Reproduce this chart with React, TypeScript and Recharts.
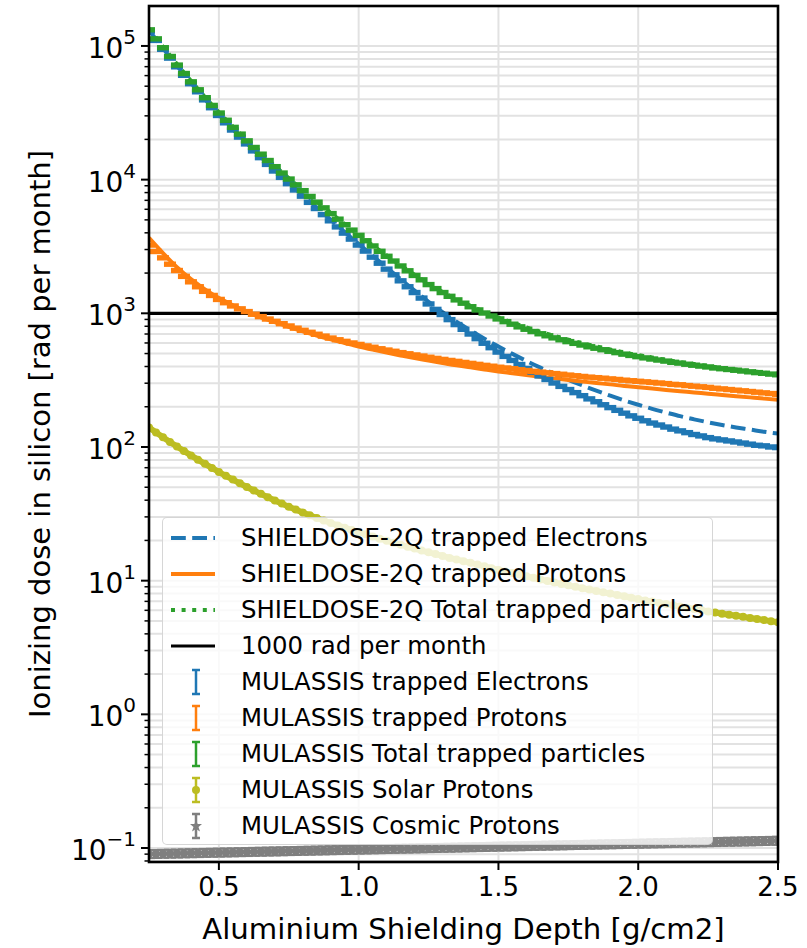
import React from 'react';
import { ComposedChart, Line, Scatter, XAxis, YAxis, CartesianGrid, ReferenceLine } from 'recharts';

// MULASSIS depths [g/cm2]
const depths = [
  0.25, 0.275, 0.3, 0.325, 0.35, 0.375, 0.4, 0.425, 0.45, 0.475,
  0.5, 0.525, 0.55, 0.575, 0.6, 0.625, 0.65, 0.675, 0.7, 0.725,
  0.75, 0.775, 0.8, 0.825, 0.85, 0.875, 0.9, 0.925, 0.95, 0.975,
  1.0, 1.025, 1.05, 1.075, 1.1, 1.125, 1.15, 1.175, 1.2, 1.225,
  1.25, 1.275, 1.3, 1.325, 1.35, 1.375, 1.4, 1.425, 1.45, 1.475,
  1.5, 1.525, 1.55, 1.575, 1.6, 1.625, 1.65, 1.675, 1.7, 1.725,
  1.75, 1.775, 1.8, 1.825, 1.85, 1.875, 1.9, 1.925, 1.95, 1.975,
  2.0, 2.025, 2.05, 2.075, 2.1, 2.125, 2.15, 2.175, 2.2, 2.225,
  2.25, 2.275, 2.3, 2.325, 2.35, 2.375, 2.4, 2.425, 2.45, 2.475, 2.5,
];

const mulElectrons = [
  129000, 110000, 94400, 81100, 69800, 60300, 52200, 45400, 39500, 34500,
  30200, 26600, 23500, 20800, 18500, 16400, 14600, 13000, 11600, 10400,
  9330, 8370, 7520, 6760, 6080, 5470, 4920, 4430, 3980, 3590,
  3240, 2920, 2630, 2370, 2140, 1940, 1750, 1580, 1430, 1300,
  1175, 1070, 979, 897, 824, 759, 700, 646, 597, 553,
  513, 476, 444, 414, 387, 363, 340, 320, 301, 284,
  269, 255, 242, 229, 218, 207, 197, 188, 179, 171,
  164, 157, 151, 146, 141, 136, 132, 128, 124, 121,
  117.5, 115, 113, 111, 109, 107, 105, 103, 102, 100, 99,
];

const mulProtons = [
  3240, 2900, 2600, 2330, 2090, 1890, 1720, 1580, 1460, 1360,
  1270, 1200, 1135, 1080, 1030, 984, 944, 906, 871, 836,
  804, 774, 746, 721, 697, 675, 653, 634, 617, 600,
  585, 570, 557, 543, 531, 520, 508, 498, 488, 479,
  469, 460, 452, 444, 437, 429, 422, 415, 408, 402,
  395, 390, 385, 378, 373, 368, 363, 359, 354, 350,
  345, 341, 337, 333, 330, 327, 323, 320, 316, 313,
  310, 307, 304, 301, 298, 294, 292, 288, 285, 282,
  279, 275, 272, 269, 266, 263, 260, 257, 254, 251, 248,
];

const mulTotal = [
  132000, 113000, 97000, 83400, 71900, 62200, 53900, 47000, 41000, 35900,
  31500, 27800, 24600, 21900, 19500, 17400, 15500, 13900, 12500, 11200,
  10100, 9140, 8270, 7480, 6780, 6150, 5570, 5060, 4600, 4190,
  3830, 3490, 3190, 2910, 2670, 2460, 2260, 2080, 1920, 1780,
  1640, 1530, 1430, 1340, 1260, 1190, 1120, 1060, 1005, 955,
  908, 866, 829, 792, 760, 731, 703, 679, 655, 634,
  614, 596, 579, 562, 548, 534, 520, 508, 495, 484,
  474, 464, 455, 447, 439, 430, 424, 416, 409, 403,
  397, 390, 385, 380, 375, 370, 365, 360, 356, 351, 347,
];

const mulSolar = [
  140, 128.5, 118.3, 109.1, 100.9, 93.3, 86.5, 80.4, 74.8, 69.7,
  65.0, 60.8, 57.0, 53.5, 50.2, 47.3, 44.6, 42.1, 39.8, 37.7,
  35.7, 34.0, 32.4, 30.8, 29.4, 28.2, 27.0, 25.9, 24.9, 23.9,
  23.0, 22.2, 21.4, 20.6, 19.9, 19.2, 18.6, 17.9, 17.4, 16.8,
  16.3, 15.8, 15.3, 14.8, 14.4, 14.0, 13.6, 13.2, 12.8, 12.4,
  12.0, 11.7, 11.4, 11.1, 10.8, 10.5, 10.2, 9.95, 9.7, 9.46,
  9.23, 8.99, 8.77, 8.57, 8.38, 8.18, 8.0, 7.82, 7.64, 7.45,
  7.28, 7.11, 6.97, 6.82, 6.68, 6.55, 6.41, 6.28, 6.15, 6.03,
  5.89, 5.77, 5.66, 5.56, 5.46, 5.36, 5.26, 5.16, 5.07, 4.98, 4.88,
];

const mulCosmic = [
  0.09, 0.0902, 0.0905, 0.0907, 0.0909, 0.0912, 0.0914, 0.0916, 0.0919, 0.0921,
  0.0924, 0.0926, 0.0928, 0.0931, 0.0933, 0.0936, 0.0938, 0.0941, 0.0943, 0.0945,
  0.0948, 0.095, 0.0953, 0.0955, 0.0958, 0.096, 0.0963, 0.0965, 0.0968, 0.097,
  0.0973, 0.0975, 0.0978, 0.098, 0.0983, 0.0985, 0.0988, 0.099, 0.0993, 0.0995,
  0.0998, 0.1, 0.1003, 0.1005, 0.1008, 0.1011, 0.1013, 0.1016, 0.1018, 0.1021,
  0.1024, 0.1026, 0.1029, 0.1031, 0.1034, 0.1037, 0.1039, 0.1042, 0.1045, 0.1047,
  0.105, 0.1053, 0.1055, 0.1058, 0.1061, 0.1063, 0.1066, 0.1069, 0.1072, 0.1074,
  0.1077, 0.108, 0.1083, 0.1085, 0.1088, 0.1091, 0.1094, 0.1097, 0.1099, 0.1102,
  0.1105, 0.1108, 0.1111, 0.1114, 0.1116, 0.1119, 0.1122, 0.1125, 0.1128, 0.1131, 0.1134,
];

// SHIELDOSE-2Q depths [g/cm2]
const sdDepths = [
  0.25, 0.3, 0.35, 0.4, 0.45, 0.5, 0.55, 0.6, 0.65, 0.7,
  0.75, 0.8, 0.85, 0.9, 0.95, 1.0, 1.05, 1.1, 1.15, 1.2,
  1.25, 1.3, 1.35, 1.4, 1.45, 1.5, 1.55, 1.6, 1.65, 1.7,
  1.75, 1.8, 1.85, 1.9, 1.95, 2.0, 2.05, 2.1, 2.15, 2.2,
  2.25, 2.3, 2.35, 2.4, 2.45, 2.5,
];

const sdElectrons = [
  131000, 96000, 71000, 53000, 40000, 30600, 23800, 18700, 14800, 11800,
  9450, 7620, 6170, 5000, 4050, 3300, 2690, 2200, 1800, 1480,
  1220, 1020, 865, 745, 645, 565, 497, 440, 392, 352,
  318, 289, 264, 242, 223, 207, 193, 181, 170, 161,
  153, 146, 140, 135, 130, 126,
];

const sdProtons = [
  3670, 2820, 2210, 1800, 1510, 1300, 1150, 1023, 933, 861,
  792, 733, 682, 638, 600, 565, 535, 508, 484, 462,
  443, 425, 408, 394, 380, 367, 356, 345, 335, 326,
  317, 309, 301, 294, 286, 280, 274, 267, 261, 256,
  250, 245, 240, 235, 230, 226,
];

const sdTotal = [
  134700, 98800, 73200, 54800, 41500, 31900, 24950, 19700, 15700, 12660,
  10240, 8350, 6850, 5640, 4650, 3865, 3225, 2710, 2284, 1942,
  1663, 1445, 1273, 1139, 1025, 932, 853, 785, 727, 678,
  635, 598, 565, 536, 509, 487, 467, 448, 431, 417,
  403, 391, 380, 370, 360, 352,
];

const limitDose = 1000;

const xTicks = [0.5, 1.0, 1.5, 2.0, 2.5];
const yMajor = [0.1, 1, 10, 100, 1000, 10000, 100000];
const yMinor = [
  0.08, 0.09, 0.2, 0.3, 0.4, 0.5, 0.6, 0.7, 0.8, 0.9,
  2, 3, 4, 5, 6, 7, 8, 9,
  20, 30, 40, 50, 60, 70, 80, 90,
  200, 300, 400, 500, 600, 700, 800, 900,
  2000, 3000, 4000, 5000, 6000, 7000, 8000, 9000,
  20000, 30000, 40000, 50000, 60000, 70000, 80000, 90000,
];
const yTicks = [...yMajor, ...yMinor].sort((a, b) => a - b);

const legendItems = [
  'SHIELDOSE-2Q trapped Electrons',
  'SHIELDOSE-2Q trapped Protons',
  'SHIELDOSE-2Q Total trapped particles',
  '1000 rad per month',
  'MULASSIS trapped Electrons',
  'MULASSIS trapped Protons',
  'MULASSIS Total trapped particles',
  'MULASSIS Solar Protons',
  'MULASSIS Cosmic Protons',
];

const BLUE = '#1f77b4';
const ORANGE = '#ff7f0e';
const GREEN = '#2ca02c';
const OLIVE = '#bcbd22';
const GRAY = '#7f7f7f';
const FONT = '"DejaVu Sans", Verdana, sans-serif';

const pts = (xs: number[], ys: number[]) => xs.map((x, i) => ({ x, y: ys[i] }));

const W = 807;
const H = 948;
const PLOT = { left: 149, top: 6, right: 778, bottom: 862 };

const YTick = ({ x, y, payload }: any) => {
  const v = payload.value;
  const major = yMajor.includes(v);
  const exp = Math.round(Math.log10(v));
  return (
    <g>
      <line x1={x - (major ? 8 : 4.5)} x2={x} y1={y} y2={y} stroke="#000" strokeWidth={major ? 2 : 1.5} />
      {major && (
        <text x={x - 13} y={y + 12} textAnchor="end" fontSize={28} fontFamily={FONT} fill="#000">
          10
          <tspan dy={-14} fontSize={20}>{exp < 0 ? '\u2212' + Math.abs(exp) : String(exp)}</tspan>
        </text>
      )}
    </g>
  );
};

const XTick = ({ x, y, payload }: any) => (
  <g>
    <line x1={x} x2={x} y1={y} y2={y + 8} stroke="#000" strokeWidth={2} />
    <text x={x} y={y + 34} textAnchor="middle" fontSize={26} fontFamily={FONT} fill="#000">
      {payload.value.toFixed(1)}
    </text>
  </g>
);

// errorbar caps (errors are tiny so the caps merge into one block)
const capShape = (color: string) => (p: any) => (
  <rect x={p.cx - 6} y={p.cy - 2.7} width={12} height={5.4} fill={color} />
);

const solarShape = (p: any) => <circle cx={p.cx} cy={p.cy} r={4} fill={OLIVE} />;

const cosmicShape = (p: any) => (
  <g stroke={GRAY} strokeWidth={2}>
    <line x1={p.cx} x2={p.cx} y1={p.cy - 4} y2={p.cy + 4} />
    <line x1={p.cx - 6} x2={p.cx + 6} y1={p.cy - 4} y2={p.cy - 4} />
    <line x1={p.cx - 6} x2={p.cx + 6} y1={p.cy + 4} y2={p.cy + 4} />
    <circle cx={p.cx} cy={p.cy} r={4.2} fill={GRAY} stroke="none" />
  </g>
);

const LegendHandle = ({ i }: { i: number }) => {
  const cy = 18;
  if (i === 0) return <line x1={8} x2={52} y1={cy} y2={cy} stroke={BLUE} strokeWidth={4} strokeDasharray="14.8 6.4" />;
  if (i === 1) return <line x1={8} x2={52} y1={cy} y2={cy} stroke={ORANGE} strokeWidth={4} />;
  if (i === 2) return <line x1={8} x2={52} y1={cy} y2={cy} stroke={GREEN} strokeWidth={4} strokeDasharray="4 6.6" />;
  if (i === 3) return <line x1={8} x2={52} y1={cy} y2={cy} stroke="#000" strokeWidth={3} />;
  const colors = [BLUE, ORANGE, GREEN, OLIVE, GRAY];
  const c = colors[i - 4];
  return (
    <g stroke={c} strokeWidth={2.5}>
      <line x1={33} x2={33} y1={cy - 12} y2={cy + 12} />
      <line x1={29} x2={37} y1={cy - 12} y2={cy - 12} />
      <line x1={29} x2={37} y1={cy + 12} y2={cy + 12} />
      {i === 7 && <circle cx={33} cy={cy} r={4} fill={c} stroke="none" />}
      {i === 8 && (
        <polygon
          points={`33,${cy - 6} 34.6,${cy - 2} 39,${cy - 2} 35.5,${cy + 1} 37,${cy + 5.5} 33,${cy + 3} 29,${cy + 5.5} 30.5,${cy + 1} 27,${cy - 2} 31.4,${cy - 2}`}
          fill={c}
          stroke="none"
        />
      )}
    </g>
  );
};

export default function App() {
  return (
    <div style={{ position: 'absolute', left: 0, top: 0, width: W, height: H, background: '#fff', fontFamily: FONT }}>
      <ComposedChart
        width={W}
        height={H}
        margin={{ top: PLOT.top, right: W - PLOT.right, bottom: 0, left: 0 }}
      >
        <CartesianGrid stroke="#e2e2e2" strokeWidth={2} horizontal vertical />
        <XAxis
          dataKey="x"
          type="number"
          domain={[0.25, 2.5]}
          ticks={xTicks}
          interval={0}
          allowDataOverflow
          height={H - PLOT.bottom}
          axisLine={false}
          tickLine={false}
          tickSize={0}
          tickMargin={0}
          tick={<XTick />}
        />
        <YAxis
          type="number"
          scale="log"
          domain={[0.0786, 199000]}
          ticks={yTicks}
          interval={0}
          allowDataOverflow
          width={PLOT.left}
          axisLine={false}
          tickLine={false}
          tickSize={0}
          tickMargin={0}
          tick={<YTick />}
        />
        <Line data={pts(sdDepths, sdElectrons)} dataKey="y" type="monotone" stroke={BLUE} strokeWidth={4} strokeDasharray="14.8 6.4" dot={false} activeDot={false} isAnimationActive={false} />
        <Line data={pts(sdDepths, sdProtons)} dataKey="y" type="monotone" stroke={ORANGE} strokeWidth={4} dot={false} activeDot={false} isAnimationActive={false} />
        <Line data={pts(sdDepths, sdTotal)} dataKey="y" type="monotone" stroke={GREEN} strokeWidth={4} strokeDasharray="4 6.6" dot={false} activeDot={false} isAnimationActive={false} />
        <ReferenceLine y={limitDose} stroke="#000" strokeWidth={3.2} />
        <Scatter data={pts(depths, mulElectrons)} dataKey="y" shape={capShape(BLUE)} isAnimationActive={false} />
        <Scatter data={pts(depths, mulProtons)} dataKey="y" shape={capShape(ORANGE)} isAnimationActive={false} />
        <Scatter data={pts(depths, mulTotal)} dataKey="y" shape={capShape(GREEN)} isAnimationActive={false} />
        <Scatter data={pts(depths, mulSolar)} dataKey="y" line={{ stroke: OLIVE, strokeWidth: 6 }} shape={solarShape} isAnimationActive={false} />
        <Scatter data={pts(depths, mulCosmic)} dataKey="y" shape={cosmicShape} isAnimationActive={false} />
      </ComposedChart>

      <svg width={W} height={H} style={{ position: 'absolute', left: 0, top: 0, pointerEvents: 'none' }}>
        <rect
          x={PLOT.left}
          y={PLOT.top}
          width={PLOT.right - PLOT.left}
          height={PLOT.bottom - PLOT.top}
          fill="none"
          stroke="#000"
          strokeWidth={2.6}
        />
        <text
          x={50}
          y={(PLOT.top + PLOT.bottom) / 2}
          transform={`rotate(-90 50 ${(PLOT.top + PLOT.bottom) / 2})`}
          textAnchor="middle"
          fontSize={29}
          fontFamily={FONT}
          fill="#000"
        >
          Ionizing dose in silicon [rad per month]
        </text>
        <text x={(PLOT.left + PLOT.right) / 2} y={939} textAnchor="middle" fontSize={29.2} fontFamily={FONT} fill="#000">
          Aluminium Shielding Depth [g/cm2]
        </text>
      </svg>

      <div
        style={{
          position: 'absolute',
          left: 162,
          top: 517,
          width: 551,
          height: 328,
          boxSizing: 'border-box',
          background: 'rgba(255,255,255,0.8)',
          border: '1.5px solid rgba(204,204,204,0.8)',
          borderRadius: 5,
        }}
      >
        {legendItems.map((label, i) => (
          <div
            key={label}
            style={{ position: 'absolute', left: 0, top: 2 + 36 * i, height: 36, display: 'flex', alignItems: 'center', whiteSpace: 'nowrap' }}
          >
            <svg width={78} height={36} style={{ flex: 'none' }}>
              <LegendHandle i={i} />
            </svg>
            <span style={{ fontSize: 24.4, color: '#000', lineHeight: '36px' }}>{label}</span>
          </div>
        ))}
      </div>
    </div>
  );
}
